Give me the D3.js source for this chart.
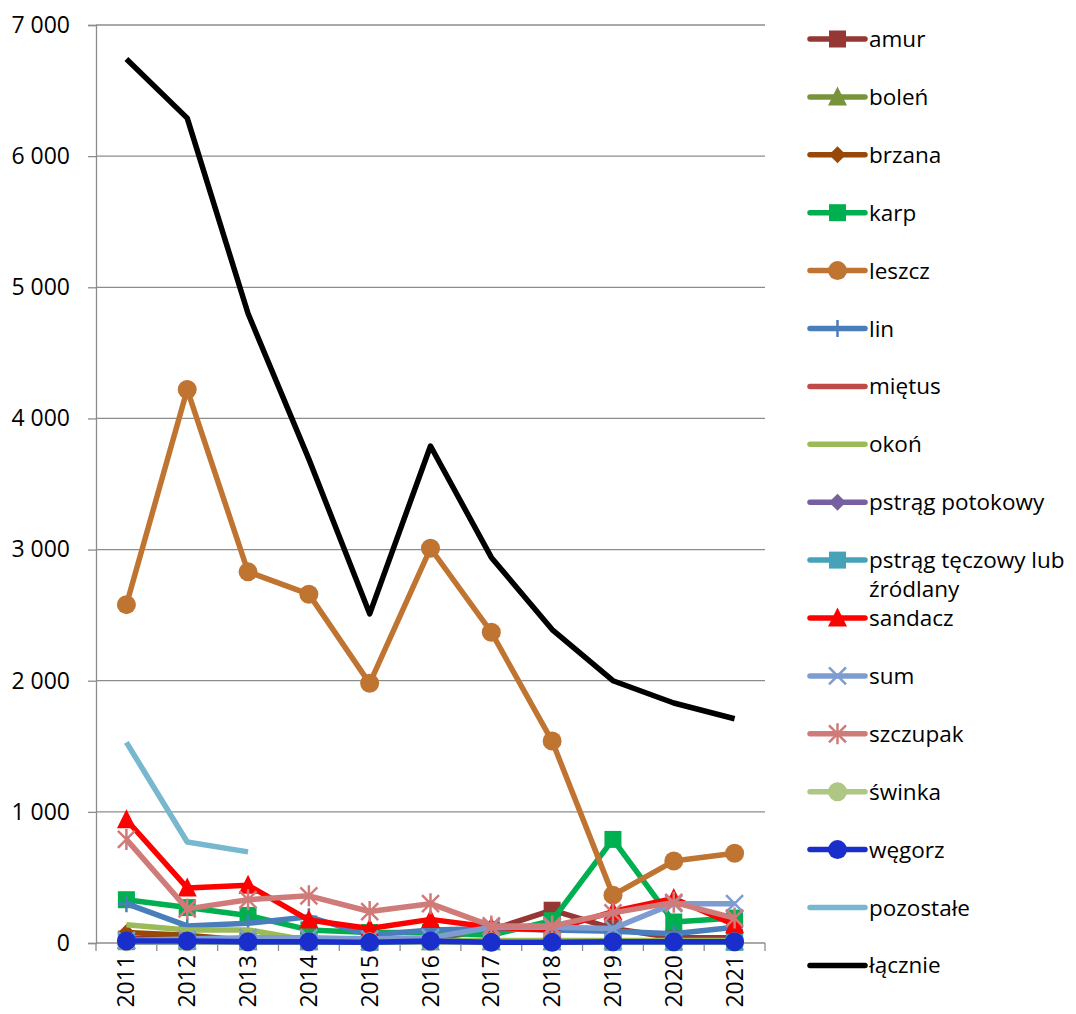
<!DOCTYPE html>
<html>
<head>
<meta charset="utf-8">
<script src="https://cdn.jsdelivr.net/npm/d3@7"></script>
<style>
  body { margin: 0; background: #fff; }
  svg { display: block; font-family: "Open Sans", sans-serif; }
</style>
</head>
<body>
<svg width="1076" height="1014"></svg>
<script>
// data (tonnes per year)
const years = ["2011", "2012", "2013", "2014", "2015", "2016", "2017", "2018", "2019", "2020", "2021"];
const amur      = [30, 40, 20, 20, 15, 30, 100, 250, 110, 40, 40];
const bolen     = [20, 15, 10, 10, 10, 10, 10, 10, 15, 10, 10];
const brzana    = [80, 60, 20, 10, 10, 10, 10, 10, 10, 10, 10];
const karp      = [330, 270, 210, 100, 80, 80, 60, 170, 790, 160, 190];
const leszcz    = [2580, 4220, 2830, 2660, 1980, 3010, 2370, 1540, 365, 625, 685];
const lin       = [300, 130, 150, 200, 60, 100, 110, 100, 90, 70, 120];
const mietus    = [10, 10, 5, 5, 5, 5, 5, 5, 5, 5, 5];
const okon      = [140, 100, 100, 20, 20, 20, 20, 20, 20, 20, 20];
const pstragPot = [5, 5, 5, 5, 5, 5, 5, 5, 5, 5, 5];
const pstragTecz = [10, 10, 10, 10, 5, 10, 10, 10, 5, 5, 5];
const sandacz   = [940, 420, 440, 175, 110, 180, 120, 100, 240, 340, 140];
const sum       = [20, 30, 40, 40, 30, 40, 120, 120, 110, 300, 300];
const szczupak  = [790, 260, 330, 360, 240, 300, 130, 130, 230, 310, 190];
const swinka    = [10, 10, 10, 10, 10, 10, 10, 10, 10, 10, 10];
const wegorz    = [15, 15, 10, 10, 5, 15, 5, 5, 10, 10, 10];
const pozostale = [1530, 770, 695, null, null, null, null, null, null, null, null];
const lacznie   = [6740, 6290, 4800, 3690, 2510, 3790, 2940, 2390, 2000, 1830, 1710];
const yTicks = [0, 1000, 2000, 3000, 4000, 5000, 6000, 7000];

const series = [
  { name: "amur", values: amur, color: "#953735", marker: "square" },
  { name: "boleń", values: bolen, color: "#77933c", marker: "triangle" },
  { name: "brzana", values: brzana, color: "#984807", marker: "diamond" },
  { name: "karp", values: karp, color: "#00b050", marker: "square" },
  { name: "leszcz", values: leszcz, color: "#c07432", marker: "circle" },
  { name: "lin", values: lin, color: "#4a7ebb", marker: "plus" },
  { name: "miętus", values: mietus, color: "#be4b48", marker: null },
  { name: "okoń", values: okon, color: "#9bbb59", marker: null },
  { name: "pstrąg potokowy", values: pstragPot, color: "#7660a0", marker: "diamond" },
  { name: ["pstrąg tęczowy lub", "źródlany"], values: pstragTecz, color: "#46a2b9", marker: "square" },
  { name: "sandacz", values: sandacz, color: "#ff0000", marker: "triangle" },
  { name: "sum", values: sum, color: "#7e9ccf", marker: "x" },
  { name: "szczupak", values: szczupak, color: "#cf7b79", marker: "asterisk" },
  { name: "świnka", values: swinka, color: "#aec784", marker: "circle" },
  { name: "węgorz", values: wegorz, color: "#1a2ecb", marker: "circle" },
  { name: "pozostałe", values: pozostale, color: "#77b8ce", marker: null },
  { name: "łącznie", values: lacznie, color: "#000000", marker: null }
];

const svg = d3.select("svg");
const plotLeft = 96, plotRight = 765, plotTop = 25, plotBottom = 943;

const x = d3.scaleBand().domain(years).range([plotLeft, plotRight]);
const y = d3.scaleLinear().domain([0, 7000]).range([plotBottom, plotTop]);
const cx = d => x(d) + x.bandwidth() / 2;

// gridlines
svg.append("g")
  .selectAll("line")
  .data(yTicks.slice(1))
  .join("line")
  .attr("x1", plotLeft).attr("x2", plotRight)
  .attr("y1", d => y(d)).attr("y2", d => y(d))
  .attr("stroke", "#8c8c8c").attr("stroke-width", 1.3);

// y axis
const yAxis = svg.append("g")
  .attr("transform", `translate(${plotLeft},0)`)
  .call(d3.axisLeft(y).tickValues(yTicks).tickSize(8).tickPadding(18)
    .tickFormat(d => d3.format(",")(d).replace(",", " ")));
yAxis.select(".domain").attr("stroke", "#8c8c8c").attr("stroke-width", 1.3);
yAxis.selectAll(".tick line").attr("stroke", "#8c8c8c").attr("stroke-width", 1.3);
yAxis.selectAll("text").attr("font-size", 23).attr("fill", "#000")
  .attr("font-family", "Open Sans, sans-serif");

// x axis
svg.append("line")
  .attr("x1", plotLeft).attr("x2", plotRight).attr("y1", plotBottom).attr("y2", plotBottom)
  .attr("stroke", "#8c8c8c").attr("stroke-width", 1.3);
svg.append("g")
  .selectAll("line")
  .data(years.concat(["end"]))
  .join("line")
  .attr("x1", (d, i) => plotLeft + i * x.step()).attr("x2", (d, i) => plotLeft + i * x.step())
  .attr("y1", plotBottom).attr("y2", plotBottom + 8)
  .attr("stroke", "#8c8c8c").attr("stroke-width", 1.3);
svg.append("g")
  .selectAll("text")
  .data(years)
  .join("text")
  .attr("transform", d => `translate(${cx(d) + 8},${plotBottom + 12}) rotate(-90)`)
  .attr("text-anchor", "end")
  .attr("font-size", 23)
  .text(d => d);

// marker shapes
function drawMarker(g, type, color) {
  const s = 8.5;
  if (type === "square") {
    g.append("rect").attr("x", -s).attr("y", -s).attr("width", 2 * s).attr("height", 2 * s).attr("fill", color);
  } else if (type === "circle") {
    g.append("circle").attr("r", 9.5).attr("fill", color);
  } else if (type === "triangle") {
    g.append("path").attr("d", `M0,${-s - 2}L${s + 1},${s}L${-s - 1},${s}Z`).attr("fill", color);
  } else if (type === "diamond") {
    g.append("path").attr("d", `M0,${-s}L${s},0L0,${s}L${-s},0Z`).attr("fill", color);
  } else if (type === "plus") {
    g.append("path").attr("d", `M0,${-s}V${s}M${-s},0H${s}`).attr("stroke", color).attr("stroke-width", 2.5);
  } else if (type === "x") {
    g.append("path").attr("d", `M${-s},${-s}L${s},${s}M${-s},${s}L${s},${-s}`).attr("stroke", color).attr("stroke-width", 2.5);
  } else if (type === "asterisk") {
    g.append("path").attr("d", `M${-s},${-s}L${s},${s}M${-s},${s}L${s},${-s}M0,${-s - 2}V${s + 2}`).attr("stroke", color).attr("stroke-width", 2.5);
  }
}

const line = d3.line()
  .defined(d => d.v !== null)
  .x(d => cx(d.year))
  .y(d => y(d.v));

const plot = svg.append("g");
series.forEach(s => {
  const pts = years.map((yr, i) => ({ year: yr, v: s.values[i] }));
  plot.append("path")
    .datum(pts)
    .attr("d", line)
    .attr("fill", "none")
    .attr("stroke", s.color)
    .attr("stroke-width", 5.5)
    .attr("stroke-linejoin", "round");
  if (s.marker) {
    plot.append("g")
      .selectAll("g")
      .data(pts.filter(d => d.v !== null))
      .join("g")
      .attr("transform", d => `translate(${cx(d.year)},${y(d.v)})`)
      .each(function () { drawMarker(d3.select(this), s.marker, s.color); });
  }
});

// legend
const legend = svg.append("g").attr("transform", "translate(810,39)");
series.forEach((s, i) => {
  const g = legend.append("g").attr("transform", `translate(0,${i * 57.9})`);
  g.append("line").attr("x1", 0).attr("x2", 55).attr("y1", 0).attr("y2", 0)
    .attr("stroke", s.color).attr("stroke-width", 5.5).attr("stroke-linecap", "round");
  if (s.marker) {
    const m = g.append("g").attr("transform", "translate(27.5,0)");
    drawMarker(m, s.marker, s.color);
  }
  const names = Array.isArray(s.name) ? s.name : [s.name];
  const t = g.append("text").attr("x", 59).attr("y", 8).attr("font-size", 22.5);
  names.forEach((n, k) => {
    t.append("tspan").attr("x", 59).attr("dy", k === 0 ? 0 : 29).text(n);
  });
});
</script>
</body>
</html>
